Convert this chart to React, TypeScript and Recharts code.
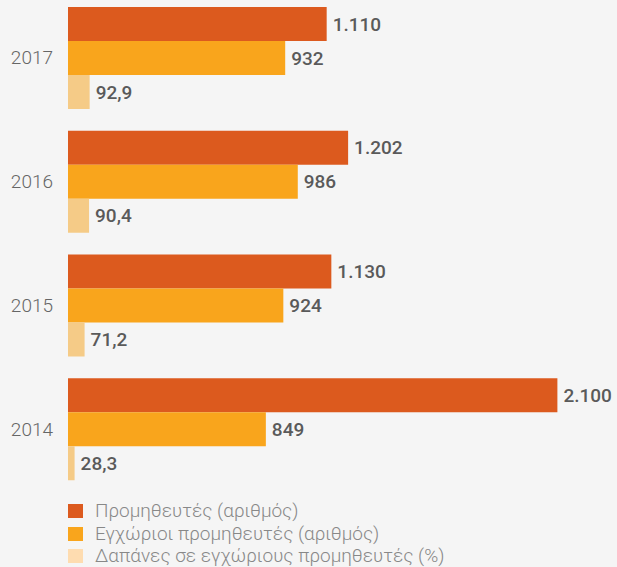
import { Bar, BarChart, LabelList, XAxis, YAxis } from "recharts";

const years = ["2017", "2016", "2015", "2014"];
const suppliers = [1110, 1202, 1130, 2100];
const localSuppliers = [932, 986, 924, 849];
const localSpendPct = [92.9, 90.4, 71.2, 28.3];

const seriesNames = [
  "Προμηθευτές (αριθμός)",
  "Εγχώριοι προμηθευτές (αριθμός)",
  "Δαπάνες σε εγχώριους προμηθευτές (%)",
];
const barColors = ["#dc5a1e", "#f9a51c", "#f5cb87"];
const legendColors = ["#dc5a1e", "#f9a51c", "#fedcb0"];

const data = years.map((year, i) => ({
  year,
  suppliers: suppliers[i],
  local: localSuppliers[i],
  pct: localSpendPct[i],
}));

const keys = ["suppliers", "local", "pct"];

// greek number style: 1.110 and 92,9
function fmt(v: any) {
  const n = Number(v);
  if (Number.isInteger(n)) return String(n).replace(/\B(?=(\d{3})+(?!\d))/g, ".");
  return n.toFixed(1).replace(".", ",");
}

const font = "Roboto, 'Noto Sans', sans-serif";

function YearTick({ y, payload }: any) {
  return (
    <text
      x={53}
      y={y}
      textAnchor="end"
      dominantBaseline="central"
      fill="#666"
      fontSize={19}
      fontWeight={300}
      fontFamily={font}
    >
      {payload.value}
    </text>
  );
}

export default function App() {
  return (
    <div
      style={{
        position: "absolute",
        top: 0,
        left: 0,
        width: 617,
        height: 567,
        background: "#f5f5f5",
        overflow: "hidden",
        fontFamily: font,
      }}
    >
      <div style={{ position: "absolute", top: -4, left: 0 }}>
        <BarChart
          layout="vertical"
          width={617}
          height={495}
          data={data}
          margin={{ top: 0, right: 13, left: 0, bottom: 0 }}
          barGap={0}
          barSize={34}
        >
          <XAxis type="number" domain={[0, 2300]} hide />
          <YAxis
            type="category"
            dataKey="year"
            width={68}
            axisLine={false}
            tickLine={false}
            tick={<YearTick />}
          />
          {keys.map((k, i) => (
            <Bar key={k} dataKey={k} fill={barColors[i]} isAnimationActive={false}>
              <LabelList
                dataKey={k}
                position="right"
                offset={6}
                formatter={fmt}
                fill="#5a5a5a"
                fontSize={19}
                fontWeight={500}
                fontFamily={font}
              />
            </Bar>
          ))}
        </BarChart>
      </div>
      <div style={{ position: "absolute", top: 500, left: 68 }}>
        {seriesNames.map((name, i) => (
          <div
            key={name}
            style={{ display: "flex", alignItems: "center", height: 22.5 }}
          >
            <i
              style={{
                display: "inline-block",
                width: 15,
                height: 14,
                background: legendColors[i],
                marginRight: 12,
              }}
            />
            <span style={{ fontSize: 19, fontWeight: 300, color: "#888", lineHeight: "20px" }}>
              {name}
            </span>
          </div>
        ))}
      </div>
    </div>
  );
}
